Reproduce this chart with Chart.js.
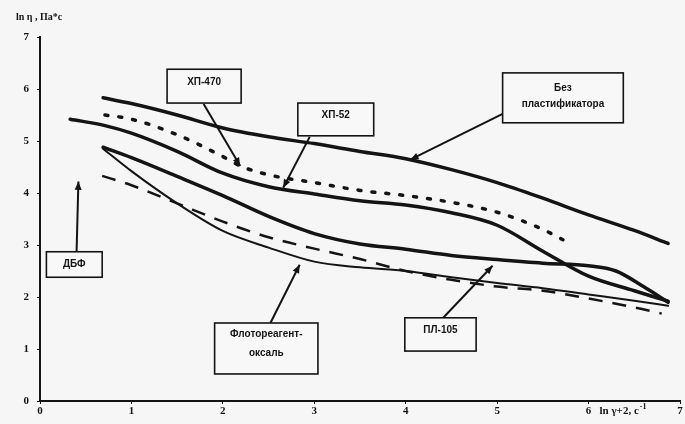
<!DOCTYPE html>
<html><head><meta charset="utf-8">
<script src="https://cdn.jsdelivr.net/npm/chart.js@4.4.1/dist/chart.umd.min.js"></script>
<style>html,body{margin:0;padding:0;background:#f6f6f6;}#wrap{width:685px;height:424px;position:relative;}</style>
</head><body><div id="wrap"><canvas id="c"></canvas></div>
<script>
// Без пластификатора (top solid)
const bezX = [0.69,1.0,1.5,2.0,2.5,3.0,3.5,4.0,4.5,5.0,5.5,6.0,6.5,6.87];
const bezY = [5.83,5.72,5.5,5.25,5.08,4.95,4.8,4.66,4.45,4.2,3.9,3.58,3.28,3.03];
// ХП-470 (dotted)
const xp470X = [0.71,1.0,1.5,2.0,2.19,2.5,3.0,3.5,4.0,4.5,5.0,5.5,5.72];
const xp470Y = [5.5,5.42,5.12,4.7,4.52,4.35,4.2,4.05,3.95,3.82,3.63,3.3,3.1];
// ХП-52 (solid)
const xp52X = [0.33,0.7,1.0,1.5,2.0,2.5,3.0,3.5,4.0,4.5,5.0,5.5,6.0,6.5,6.87];
const xp52Y = [5.42,5.3,5.15,4.8,4.38,4.12,3.98,3.85,3.77,3.62,3.38,2.88,2.4,2.12,1.92];
// ПЛ-105 (solid)
const pl105X = [0.69,1.0,1.5,2.0,2.5,3.0,3.5,4.0,4.5,5.0,5.5,6.0,6.3,6.6,6.87];
const pl105Y = [4.88,4.68,4.32,3.95,3.55,3.22,3.02,2.92,2.8,2.72,2.65,2.6,2.5,2.2,1.9];
// Флотореагент-оксаль (thin solid)
const flotX = [0.69,1.0,1.5,2.0,2.5,3.0,3.5,4.0,4.5,5.0,5.5,6.0,6.5,6.87];
const flotY = [4.85,4.42,3.8,3.27,2.95,2.68,2.57,2.5,2.38,2.27,2.17,2.05,1.93,1.83];
// ДБФ (dashed)
const dbfX = [0.68,1.0,1.5,2.0,2.5,3.0,3.5,4.0,4.5,5.0,5.5,6.0,6.5,6.8];
const dbfY = [4.33,4.15,3.8,3.45,3.15,2.93,2.73,2.5,2.33,2.2,2.12,1.97,1.8,1.68];
const xTicks = [0,1,2,3,4,5,6,7];
const yTicks = [0,1,2,3,4,5,6,7];

const pts = (xs, ys) => xs.map((x, i) => ({x: x, y: ys[i]}));
const INK = '#141414';

// label boxes in data coordinates (x1,y1 top-left; x2,y2 bottom-right), arrows from->to
const notes = [
  {box:[1.39,6.38,2.20,5.73], lines:['ХП-470'], ty:[0.38], from:[1.79,5.71], to:[2.19,4.52]},
  {box:[2.82,5.73,3.65,5.10], lines:['ХП-52'], ty:[0.38], from:[2.95,5.08], to:[2.66,4.10]},
  {box:[5.06,6.31,6.38,5.35], lines:['Без','пластификатора'], ty:[0.3,0.62], from:[5.06,5.52], to:[4.05,4.64]},
  {box:[0.07,2.87,0.68,2.38], lines:['ДБФ'], ty:[0.5], from:[0.40,2.87], to:[0.42,4.22]},
  {box:[1.91,1.50,3.04,0.52], lines:['Флотореагент-','оксаль'], ty:[0.22,0.6], from:[2.52,1.5], to:[2.84,2.62]},
  {box:[3.99,1.60,4.77,0.96], lines:['ПЛ-105'], ty:[0.38], from:[4.41,1.6], to:[4.95,2.6]}
];

function arrow(ctx, x1, y1, x2, y2) {
  ctx.beginPath(); ctx.moveTo(x1, y1); ctx.lineTo(x2, y2); ctx.stroke();
  const a = Math.atan2(y2 - y1, x2 - x1), L = 9, W = 0.4;
  ctx.beginPath();
  ctx.moveTo(x2, y2);
  ctx.lineTo(x2 - L*Math.cos(a - W), y2 - L*Math.sin(a - W));
  ctx.lineTo(x2 - L*Math.cos(a + W), y2 - L*Math.sin(a + W));
  ctx.closePath(); ctx.fill();
}

const notesPlugin = {
  id: 'notes',
  afterDatasetsDraw(chart) {
    const ctx = chart.ctx, xs = chart.scales.x, ys = chart.scales.y;
    ctx.save();
    ctx.strokeStyle = INK; ctx.fillStyle = INK;
    notes.forEach(n => {
      const x1 = xs.getPixelForValue(n.box[0]), y1 = ys.getPixelForValue(n.box[1]);
      const x2 = xs.getPixelForValue(n.box[2]), y2 = ys.getPixelForValue(n.box[3]);
      ctx.lineWidth = 2;
      arrow(ctx, xs.getPixelForValue(n.from[0]), ys.getPixelForValue(n.from[1]),
                 xs.getPixelForValue(n.to[0]), ys.getPixelForValue(n.to[1]));
      ctx.fillStyle = '#f8f8f8';
      ctx.fillRect(x1, y1, x2 - x1, y2 - y1);
      ctx.lineWidth = 1.6;
      ctx.strokeRect(x1, y1, x2 - x1, y2 - y1);
      ctx.fillStyle = INK;
      ctx.font = 'bold 10px "Liberation Sans"';
      ctx.textAlign = 'center'; ctx.textBaseline = 'middle';
      n.lines.forEach((t, i) => ctx.fillText(t, (x1 + x2)/2, y1 + (y2 - y1)*n.ty[i]));
    });
    // axis titles
    ctx.font = 'bold 10px "Liberation Serif"';
    ctx.textAlign = 'left'; ctx.textBaseline = 'middle';
    ctx.fillText('ln η , Па*с', 16, 17);
    const xa = xs.getPixelForValue(6.12), yb = chart.scales.y.getPixelForValue(0) + 10;
    ctx.font = 'bold 11px "Liberation Serif"';
    ctx.fillText('ln γ+2, с', xa, yb);
    const w = ctx.measureText('ln γ+2, с').width;
    ctx.font = 'bold 8px "Liberation Serif"';
    ctx.fillText('-1', xa + w + 1, yb - 4);
    ctx.restore();
  }
};

const base = {fill:false, pointRadius:0, borderColor:INK, cubicInterpolationMode:'monotone', borderCapStyle:'round', borderJoinStyle:'round'};
new Chart(document.getElementById('c'), {
  type: 'line',
  data: { datasets: [
    Object.assign({label:'Без пластификатора', data:pts(bezX,bezY), borderWidth:3.5}, base),
    Object.assign({label:'ХП-470', data:pts(xp470X,xp470Y), borderWidth:3.5, borderDash:[3,11]}, base),
    Object.assign({label:'ХП-52', data:pts(xp52X,xp52Y), borderWidth:3.5}, base),
    Object.assign({label:'ПЛ-105', data:pts(pl105X,pl105Y), borderWidth:3.5}, base),
    Object.assign({label:'Флотореагент-оксаль', data:pts(flotX,flotY), borderWidth:2}, base),
    Object.assign({label:'ДБФ', data:pts(dbfX,dbfY), borderWidth:2.5, borderDash:[14,10]}, Object.assign({}, base, {borderCapStyle:'butt'}))
  ]},
  options: {
    responsive: true, maintainAspectRatio: false, animation: false,
    layout: {padding: {left: 0, right: 5, top: 37, bottom: 0}},
    plugins: {legend: {display: false}, tooltip: {enabled: false}},
    scales: {
      x: {type:'linear', min:0, max:7,
          afterBuildTicks: s => { s.ticks = xTicks.map(v => ({value:v})); },
          afterFit: s => { s.height = 23; },
          grid: {display:true, drawOnChartArea:false, drawTicks:true, tickLength:3, color:INK},
          border: {display:true, color:INK, width:2},
          ticks: {color:INK, font:{family:'Liberation Serif', size:11, weight:'bold'}, padding:1, maxRotation:0,
                  callback: v => String(v)}},
      y: {type:'linear', min:0, max:7,
          afterBuildTicks: s => { s.ticks = yTicks.map(v => ({value:v})); },
          afterFit: s => { s.width = 40; },
          grid: {display:true, drawOnChartArea:false, drawTicks:true, tickLength:3, color:INK},
          border: {display:true, color:INK, width:2},
          ticks: {color:INK, font:{family:'Liberation Serif', size:11, weight:'bold'}, padding:8,
                  callback: v => String(v)}}
    }
  },
  plugins: [notesPlugin, {id:'bg', beforeDraw(c){const x=c.ctx; x.save(); x.fillStyle='#f6f6f6'; x.fillRect(0,0,c.width,c.height); x.restore();}}]
});
</script></body></html>
